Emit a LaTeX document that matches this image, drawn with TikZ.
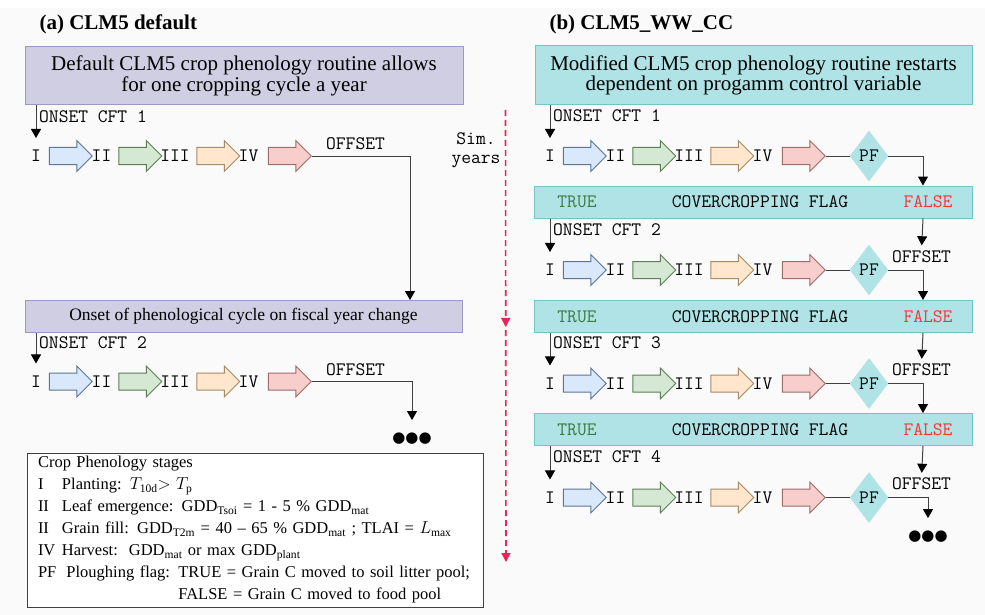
\documentclass[tikz,border=0pt]{standalone}
\usepackage{amsmath}
\usepackage{fontspec}
\setmainfont{Liberation Serif}
\newfontfamily\dotfont{DejaVu Sans}
\usepackage{tikz}
\usetikzlibrary{shapes.arrows, shapes.geometric, arrows.meta, positioning, calc, decorations.markings}
\definecolor{bggrey}{RGB}{250, 250, 250}
\definecolor{lavfill}{HTML}{D0CEE2}
\definecolor{lavline}{HTML}{9C98C4}
\definecolor{tealfill}{HTML}{B0E3E6}
\definecolor{tealline}{HTML}{74C3C8}
\definecolor{stgfill1}{HTML}{DAE8FC}
\definecolor{stgline1}{HTML}{5E7595}
\definecolor{stgfill2}{HTML}{D5E8D4}
\definecolor{stgline2}{HTML}{5E7F55}
\definecolor{stgfill3}{HTML}{FFE6CC}
\definecolor{stgline3}{HTML}{A58B66}
\definecolor{stgfill4}{HTML}{F8CECC}
\definecolor{stgline4}{HTML}{9E6B6A}
\definecolor{linkgrey}{HTML}{404040}
\definecolor{simred}{HTML}{E8245A}
\definecolor{truegreen}{HTML}{3B7A3F}
\definecolor{falsered}{HTML}{FF3333}

% one row of the four phenology stages: prefix, x of stage I, y
\newcommand{\phenorow}[3]{%
  \foreach \k/\lab/\lx/\ax in {1/I/0/30.5, 2/II/65.5/100, 3/III/139/178, 4/IV/212.5/249.5} {
    \node[mono] (#1-l\k) at (#2+\lx,#3) {\lab};
    \node[stagearrow, fill=stgfill\k, draw=stgline\k] (#1-s\k) at (#2+\ax,#3) {};
  }
}

\begin{document}
\begin{tikzpicture}[x=1pt, y=-1pt,
    mono/.style={font=\fontsize{19}{19.5}\selectfont\ttfamily, inner sep=0pt},
    stagearrow/.style={single arrow, line width=1pt, minimum height=43pt, minimum width=30pt,
      single arrow head extend=7pt, single arrow head indent=0pt, inner xsep=0pt, inner ysep=8pt},
    lavbox/.style={draw=lavline, fill=lavfill, line width=1pt, align=center},
    ccbox/.style={draw=tealline, fill=tealfill, line width=1pt, minimum width=438pt, minimum height=32pt},
    pfdiamond/.style={diamond, fill=tealfill, draw=tealfill, minimum width=38pt, minimum height=50pt, mono},
    link/.style={draw=linkgrey, line width=1pt},
    flow/.style={link, -{Triangle[width=10pt, length=9pt, color=black]}},
    simyears/.style={draw=simred, line width=1.6pt, dash pattern=on 6pt off 4pt,
      -{Triangle[width=9pt, length=9pt]}, postaction={decorate},
      decoration={markings, mark=at position 0.48 with {\arrow{Triangle[width=9pt, length=9pt]}}}},
    dots/.style={font=\fontsize{15}{15}\selectfont\dotfont, inner sep=0pt}]

    % Canvas
    \path[use as bounding box] (0,0) rectangle (985,615);
    \fill[white] (0,0) rectangle (985,615);
    \fill[bggrey] (0,8) rectangle (985,615);

    % Titles
    \node[anchor=base west, font=\fontsize{21}{24}\selectfont\bfseries] (titleA) at (36,30) {(a) CLM5 default};
    \node[anchor=base west, font=\fontsize{21}{24}\selectfont\bfseries] (titleB) at (546,30) {(b) CLM5\_WW\_CC};

    % (a) default routine
    \node[lavbox, minimum width=438pt, minimum height=58pt, font=\fontsize{21}{20.6}\selectfont] (defbox) at (244,76)
      {Default CLM5 crop phenology routine allows\\for one cropping cycle a year};
    \node[lavbox, minimum width=437pt, minimum height=32pt, font=\fontsize{17.5}{19}\selectfont] (fiscbox) at (243.5,316.5)
      {Onset of phenological cycle on fiscal year change};

    \phenorow{L1}{36}{156}
    \phenorow{L2}{36}{381.5}

    \node[mono, anchor=west] (L1-onset) at (39,116.5) {ONSET CFT 1};
    \node[mono, anchor=west] (L2-onset) at (39,343) {ONSET CFT 2};
    \node[mono] (L1-off) at (355.5,144) {OFFSET};
    \node[mono] (L2-off) at (355.5,370) {OFFSET};
    \node[dots] (dotsL) at (412,439) {●●●};
    \coordinate (L1-drop) at (410,0);

    \draw[flow, shorten >=12pt] (defbox.south -| L1-l1) -- (L1-l1.north);
    \draw[flow] (L1-s4.tip) -| (fiscbox.north -| L1-drop);
    \draw[flow, shorten >=12pt] (fiscbox.south -| L2-l1) -- (L2-l1.north);
    \draw[flow, shorten >=13pt] (L2-s4.tip) -| (dotsL.north);

    % legend
    \node[draw=linkgrey, fill=white, line width=1pt, minimum width=456pt, minimum height=154pt,
      inner xsep=8pt, inner ysep=3pt, text width=440pt, align=left,
      font=\fontsize{16.5}{22}\selectfont] (legend) at (255,530) {%
      \hspace*{3pt}Crop Phenology stages\\
      \hspace*{3pt}\makebox[24pt][l]{I}Planting: $T_{\text{10d}}{>}\ T_{\text{p}}$\\
      \hspace*{3pt}\makebox[24pt][l]{II}Leaf emergence: GDD$_{\text{Tsoi}}$ = 1 - 5 \% GDD$_{\text{mat}}$\\
      \hspace*{3pt}\makebox[24pt][l]{II}Grain fill: GDD$_{\text{T2m}}$ = 40 -- 65 \% GDD$_{\text{mat}}$ ; TLAI = $L_{\text{max}}$\\
      \hspace*{3pt}\makebox[24pt][l]{IV}Harvest:\ \ GDD$_{\text{mat}}$ or max GDD$_{\text{plant}}$\\
      \hspace*{3pt}\makebox[28.5pt][l]{PF}Ploughing flag: TRUE = Grain C moved to soil litter pool;\\
      \hspace*{3pt}\hphantom{\makebox[28.5pt][l]{PF}Ploughing flag: }FALSE = Grain C moved to food pool};

    % simulation years
    \coordinate (simtop) at (505.5,110);
    \coordinate (simend) at (506,562);
    \draw[simyears] (simtop) -- (simend);
    \node[mono, align=center] (simlab) at (476,150) {Sim.\\years};

    % (b) modified routine
    \node[draw=tealline, fill=tealfill, line width=1pt, align=center, minimum width=437pt, minimum height=59pt,
      font=\fontsize{21}{20.6}\selectfont] (modbox) at (753.5,75.5)
      {Modified CLM5 crop phenology routine restarts\\dependent on progamm control variable};
    \coordinate (falsecol) at (923,0);

    \foreach \n/\y in {1/156, 2/270, 3/383.5, 4/497.5} {
      \phenorow{R\n}{550}{\y}
      \node[pfdiamond] (R\n-pf) at (869,\y) {PF};
      \draw[link] (R\n-s4.tip) -- (R\n-pf.west);
      \node[mono, anchor=west] (R\n-onset) at (553,\y-40.5) {ONSET CFT \n};
    }
    \foreach \n/\y in {2/256.5, 3/370, 4/484} {
      \node[mono] (R\n-off) at (921.5,\y) {OFFSET};
    }
    \foreach \n/\y in {1/202, 2/316.5, 3/429.5} {
      \node[ccbox] (cc\n) at (753,\y) {};
      \node[mono, text=truegreen] (cc\n-true) at (577,\y) {TRUE};
      \node[mono] (cc\n-flag) at (760,\y) {COVERCROPPING FLAG};
      \node[mono, text=falsered] (cc\n-false) at (928,\y) {FALSE};
    }
    \node[dots] (dotsR) at (928,537) {●●●};

    \draw[flow, shorten >=12pt] (modbox.south -| R1-l1) -- (R1-l1.north);
    \foreach \n [evaluate=\n as \m using int(\n+1)] in {1,2,3} {
      \draw[flow] (R\n-pf.east) -| (cc\n.north -| falsecol);
      \draw[flow, shorten >=12pt] (cc\n.south -| R\m-l1) -- (R\m-l1.north);
      \draw[flow, shorten >=5pt] (cc\n.south -| falsecol) -- (R\m-off.north);
    }
    \draw[flow, shorten >=13pt] (R4-pf.east) -| (dotsR.north);
\end{tikzpicture}
\end{document}
